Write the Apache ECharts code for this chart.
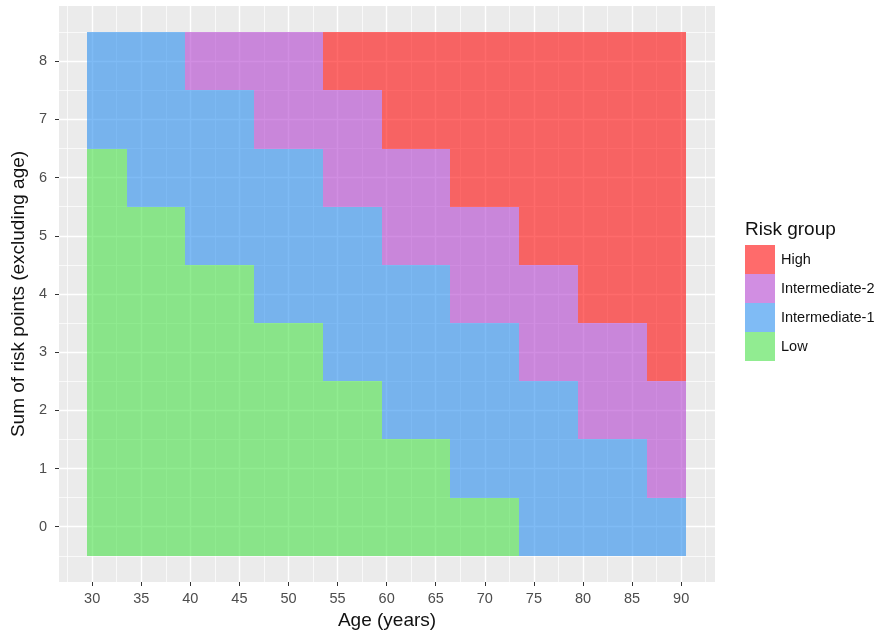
<!DOCTYPE html>
<html>
<head>
<meta charset="utf-8">
<script src="https://cdn.jsdelivr.net/npm/echarts@6/dist/echarts.min.js"></script>
<style>
  html, body { margin: 0; padding: 0; background: #ffffff; }
  #chart { width: 890px; height: 632px; }
</style>
</head>
<body>
<div id="chart"></div>
<script>
// ---- Data ----
// Sum of risk points (excluding age), one row per score
const scores = [0, 1, 2, 3, 4, 5, 6, 7, 8];
// Last age (years) that falls in each risk group, per score row (null = group absent in that row)
const lowLastAge  = [73, 66, 59, 53, 46, 39, 33, null, null];
const int1LastAge = [90, 86, 79, 73, 66, 59, 53, 46, 39];
const int2LastAge = [null, 90, 90, 86, 79, 73, 66, 59, 53];
const highLastAge = [null, null, null, 90, 90, 90, 90, 90, 90];
const firstAge = 30;

const groups = ['High', 'Intermediate-2', 'Intermediate-1', 'Low'];
const groupColors = {
  'High': 'rgba(255,8,8,0.6)',
  'Intermediate-2': 'rgba(178,66,206,0.6)',
  'Intermediate-1': 'rgba(42,142,238,0.6)',
  'Low': 'rgba(72,224,72,0.6)'
};

const xTicks = [30, 35, 40, 45, 50, 55, 60, 65, 70, 75, 80, 85, 90];
const yTicks = [0, 1, 2, 3, 4, 5, 6, 7, 8];
const xMinor = [27.5, 32.5, 37.5, 42.5, 47.5, 52.5, 57.5, 62.5, 67.5, 72.5, 77.5, 82.5, 87.5, 92.5];
const yMinor = [-0.5, 0.5, 1.5, 2.5, 3.5, 4.5, 5.5, 6.5, 7.5, 8.5];

// Build tile runs: [startAge, endAge, score] per group
const runs = { 'Low': [], 'Intermediate-1': [], 'Intermediate-2': [], 'High': [] };
scores.forEach(function (s, i) {
  let start = firstAge;
  const seq = [['Low', lowLastAge[i]], ['Intermediate-1', int1LastAge[i]],
               ['Intermediate-2', int2LastAge[i]], ['High', highLastAge[i]]];
  seq.forEach(function (pair) {
    const last = pair[1];
    if (last !== null && last >= start) {
      runs[pair[0]].push([start, last, s]);
      start = last + 1;
    }
  });
});

function renderItem(params, api) {
  const p0 = api.coord([api.value(0) - 0.5, api.value(2) + 0.5]);
  const p1 = api.coord([api.value(1) + 0.5, api.value(2) - 0.5]);
  const l = Math.round(p0[0]), t = Math.round(p0[1]);
  const r = Math.round(p1[0]), b = Math.round(p1[1]);
  return {
    type: 'rect',
    shape: { x: l, y: t, width: r - l, height: b - t },
    style: { fill: groupColors[params.seriesName] }
  };
}

const FONT = '"Liberation Sans", Arial, sans-serif';

const tileSeries = groups.map(function (g) {
  return {
    name: g,
    type: 'custom',
    renderItem: renderItem,
    data: runs[g],
    encode: { x: [0, 1], y: 2 },
    itemStyle: { color: groupColors[g] },
    z: 2,
    silent: true,
    animation: false
  };
});

const minorSeries = {
  name: 'minor-grid',
  type: 'line',
  data: [],
  z: 1,
  silent: true,
  animation: false,
  markLine: {
    silent: true,
    z: 1,
    symbol: ['none', 'none'],
    label: { show: false },
    lineStyle: { color: '#ffffff', width: 0.7, type: 'solid' },
    emphasis: { disabled: true },
    animation: false,
    data: xMinor.map(function (v) { return { xAxis: v }; })
      .concat(yMinor.map(function (v) { return { yAxis: v }; }))
  }
};

const chart = echarts.init(document.getElementById('chart'), null, { renderer: 'canvas' });
chart.setOption({
  animation: false,
  backgroundColor: '#ffffff',
  textStyle: { fontFamily: FONT },
  title: {
    text: 'Risk group',
    left: 745,
    top: 220,
    padding: 0,
    textStyle: { fontFamily: FONT, fontSize: 19, fontWeight: 'normal', color: '#111111' }
  },
  legend: {
    data: groups,
    orient: 'vertical',
    left: 745,
    top: 245,
    padding: 0,
    itemGap: 0,
    itemWidth: 30,
    itemHeight: 29,
    icon: 'rect',
    selectedMode: false,
    textStyle: { fontFamily: FONT, fontSize: 14.5, color: '#111111', padding: [0, 0, 0, 1] }
  },
  grid: {
    left: 59, right: 175, top: 6, bottom: 50,
    containLabel: false,
    outerBoundsMode: 'none',
    show: true, backgroundColor: '#EBEBEB', borderWidth: 0
  },
  xAxis: {
    type: 'value',
    min: 26.62,
    max: 93.45,
    splitNumber: 12,
    minInterval: 5,
    maxInterval: 5,
    name: 'Age (years)',
    nameLocation: 'middle',
    nameGap: 29,
    nameTextStyle: { fontFamily: FONT, fontSize: 19, color: '#111111' },
    axisLine: { show: false, onZero: false },
    axisTick: { show: true, length: 4, customValues: xTicks, lineStyle: { color: '#333333', width: 1 } },
    axisLabel: { customValues: xTicks, margin: 9, fontFamily: FONT, fontSize: 14.5, color: '#4D4D4D' },
    splitLine: { show: true, lineStyle: { color: '#ffffff', width: 1.4 } }
  },
  yAxis: {
    type: 'value',
    min: -0.95,
    max: 8.95,
    splitNumber: 9,
    minInterval: 1,
    maxInterval: 1,
    name: 'Sum of risk points (excluding age)',
    nameLocation: 'middle',
    nameGap: 31,
    nameTextStyle: { fontFamily: FONT, fontSize: 19, color: '#111111' },
    axisLine: { show: false, onZero: false },
    axisTick: { show: true, length: 4, customValues: yTicks, lineStyle: { color: '#333333', width: 1 } },
    axisLabel: { customValues: yTicks, margin: 12, fontFamily: FONT, fontSize: 14.5, color: '#4D4D4D' },
    splitLine: { show: true, lineStyle: { color: '#ffffff', width: 1.4 } }
  },
  series: [minorSeries].concat(tileSeries)
});
</script>
</body>
</html>
